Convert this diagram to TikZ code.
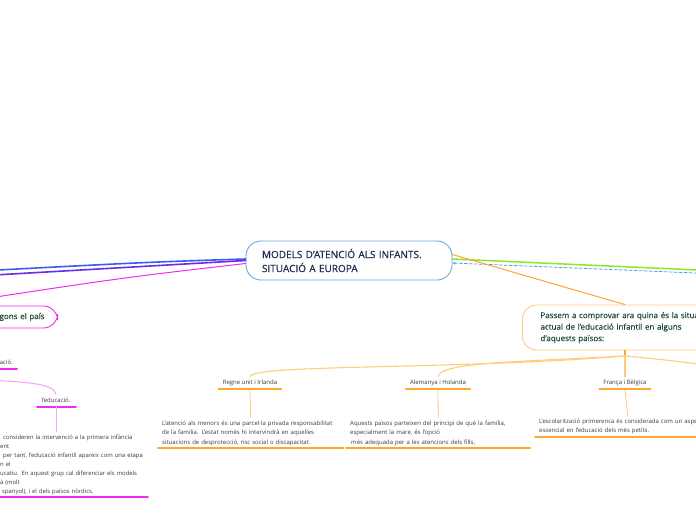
\documentclass[tikz,border=0pt]{standalone}
\usepackage{fontspec}
\setmainfont{Open Sans}
\newfontfamily\headfont[FakeBold=0.5]{Open Sans}
\usetikzlibrary{arrows.meta,positioning}
\definecolor{rootblue}{HTML}{6AA6DA}
\definecolor{navy}{HTML}{1C2B4F}
\definecolor{royal}{HTML}{3A5CF5}
\definecolor{violet}{HTML}{6A2BEA}
\definecolor{fuchsia}{HTML}{F02CF0}
\definecolor{blush}{HTML}{F6A8F4}
\definecolor{grass}{HTML}{8BE82A}
\definecolor{sky}{HTML}{5A9BE8}
\definecolor{amber}{HTML}{FFA62B}
\definecolor{peach}{HTML}{FFCB7E}
\definecolor{pine}{HTML}{1F4B3C}
\definecolor{ink}{HTML}{3A3A3A}

\begin{document}
\begin{tikzpicture}[
    x=1pt, y=-1pt,
    line cap=round,
    every node/.style={font=\fontsize{6}{9.5}\selectfont, text=ink},
    root/.style={draw=rootblue, line width=0.9pt, rounded corners=15pt, fill=white,
        text=navy, font=\headfont\fontsize{10}{14}\selectfont, align=left,
        text width=174pt, inner xsep=16pt, minimum height=39pt},
    topicbox/.style={line width=0.9pt, rounded corners=14pt, fill=white,
        text=pine, font=\headfont\fontsize{8}{11.5}\selectfont, align=left, inner xsep=18pt},
    branch/.style={inner xsep=4pt, inner ysep=3pt},
    para/.style={align=left, inner xsep=4pt, inner ysep=2.5pt, anchor=north west},
    uline/.style={line width=1.9pt},
    stem/.style={line width=0.8pt},
    curve/.style={line width=1.1pt},
]
\clip (0,0) rectangle (696,520);

% --- Central topic ---
\node[root] (root) at (349,260.5) {MODELS D’ATENCIÓ ALS INFANTS.\\SITUACIÓ A EUROPA};

% --- Left branches (leaving the page) ---
\coordinate (bluend) at (-40,272);
\coordinate (violend) at (-40,277);
\draw[royal, line width=1.6pt] ([yshift=1.5pt]root.west) .. controls (150,262) .. (bluend);
\draw[violet, line width=1.6pt] (root.west) .. controls (150,266) .. (violend);

% Country models node (cut by the left border)
\node[topicbox, draw=fuchsia, text width=210pt, align=right, minimum height=22pt,
      inner xsep=13pt, anchor=east] (pais) at (58,317) {segons el país};
\draw[fuchsia, line width=1pt] ([yshift=-3pt]root.west) .. controls (120,278) .. (pais.north);

\node[branch, anchor=east] (educ0) at (17,362) {educació.};
\draw[fuchsia, line width=2pt] (-2,368.5) -- (17,368.5);

\coordinate (pinkin) at (-15,380);
\node[branch] (educ) at (56,400) {l’educació.};
\draw[blush, curve] (pinkin) .. controls (30,382) and (54,384) .. (educ.north);
\draw[fuchsia, line width=2pt] (37,407) -- (76,407);

\node[para, text width=200pt, font=\fontsize{5.9}{9}\selectfont] (nordtext) at (-4,432)
    {\hspace*{3pt}consideren la intervenció a la primera infància\\
     ent\\
     \hspace*{3pt}per tant, l’educació infantil apareix com una etapa\\
     n el\\
     ucatiu. En aquest grup cal diferenciar els models\\
     à (molt\\
     \hspace*{2pt}spanyol), i el dels països nòrdics.};
\draw[blush, stem] (educ.south) -- (educ.south |- nordtext.north);
\draw[fuchsia, uline] (-2,497) -- (148,497);

% --- Right branches ---
\coordinate (grassend) at (720,271);
\coordinate (skyend) at (720,274);
\draw[grass, line width=1.5pt] ([yshift=1.5pt]root.east) -- (grassend);
\draw[sky, line width=0.8pt, dash pattern=on 3pt off 2pt, {Stealth[length=3pt,width=3pt]}-]
    ([yshift=-2.5pt]root.east) -- (skyend);

% --- Situation in Europe ---
\node[topicbox, draw=peach, text width=200pt, minimum height=45pt, anchor=west] (intro)
    at (522,327.5) {Passem a comprovar ara quina és la situació\\
                    actual de l’educació infantil en alguns\\
                    d’aquests països:};
\draw[amber, line width=1pt] ([yshift=6pt]root.east) .. controls (540,280) .. (intro.north -| 625,0);

\coordinate (hub) at (625,356);
\draw[amber, line width=1.6pt] (intro.south -| hub) -- (hub);

\node[branch] (regne) at (250,383) {Regne unit i Irlanda};
\node[branch] (alem) at (438,383) {Alemanya i Holanda};
\node[branch] (franca) at (625,383) {França i Bèlgica};
\coordinate (rightend) at (760,378);

\draw[peach, curve] (hub) .. controls (450,370) and (251,364) .. (regne.north);
\draw[peach, curve] (hub) .. controls (520,362) and (439,362) .. (alem.north);
\draw[peach, curve] (hub) -- (franca.north);
\draw[peach, curve] (hub) .. controls (690,362) and (720,366) .. (rightend);

% --- Country descriptions ---
\node[para, text width=177pt] (regtext) at (158,418)
    {L’atenció als menors és una parcel·la privada responsabilitat\\
     de la família. L’estat només hi intervindrà en aquelles\\
     situacions de desprotecció, risc social o discapacitat.};
\node[para, text width=176pt] (alemtext) at (346,418)
    {Aquests països parteixen del principi de què la família,\\
     especialment la mare, és l’opció\\
     \hspace*{1pt}més adequada per a les atencions dels fills,};
\node[para, text width=177pt] (francatext) at (535,416)
    {L’escolarització primerenca és considerada com un aspecte\\
     essencial en l’educació dels més petits.};

\draw[peach, stem] (regne.south) -- (regtext.north);
\draw[peach, stem] (alem.south) -- (alemtext.north);
\draw[peach, stem] (franca.south) -- (francatext.north);

% --- Underlines ---
\foreach \n in {regne,alem,franca,regtext,alemtext,francatext}
    \draw[draw=amber, uline] (\n.south west) -- (\n.south east);

\end{tikzpicture}
\end{document}
